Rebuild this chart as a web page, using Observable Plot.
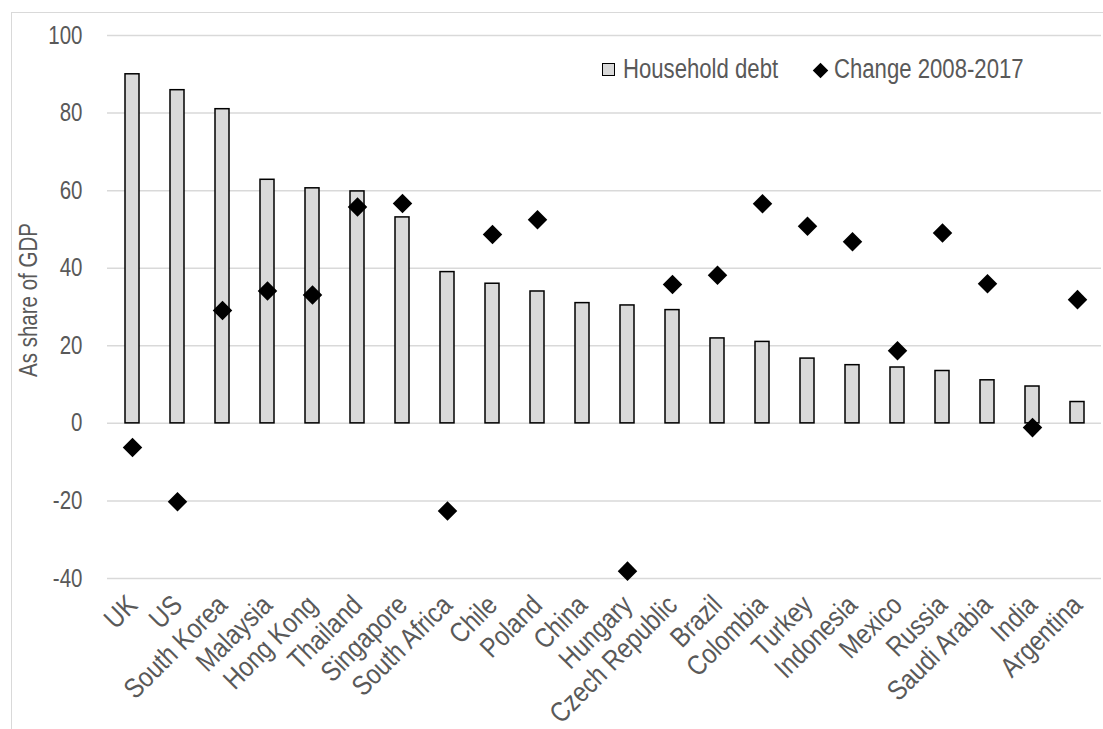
<!DOCTYPE html>
<html>
<head>
<meta charset="utf-8">
<script src="https://cdn.jsdelivr.net/npm/d3@7"></script>
<script src="https://cdn.jsdelivr.net/npm/@observablehq/plot@0.6"></script>
<style>
  html, body { margin: 0; padding: 0; background: #fff; }
  #wrap { position: relative; width: 1103px; height: 729px; overflow: hidden; background: #fff;
          font-family: "Liberation Sans", Arial, sans-serif; color: #595959; }
  #frame { position: absolute; left: 11px; top: 12px; width: 1200px; height: 800px;
           border-left: 1.5px solid #d9d9d9; border-top: 1.5px solid #d9d9d9; }
  #chart { position: absolute; left: 0; top: 0; }
  .narrow { display: inline-block; transform: scaleX(0.82); transform-origin: 0 50%; }
  #ylabel { position: absolute; left: 28px; top: 300px; font-size: 25px; line-height: 25px; white-space: nowrap;
            transform: translate(-50%, -50%) rotate(-90deg) scaleX(0.82); }
  .lg { position: absolute; font-size: 27px; line-height: 27px; white-space: nowrap; }
  #lgsq { position: absolute; left: 602px; top: 63px; width: 11px; height: 11px; background: #d9d9d9; border: 1.5px solid #000; }
  #lgdm { position: absolute; left: 815px; top: 64.5px; width: 11px; height: 11px; background: #000; transform: rotate(45deg); }
</style>
</head>
<body>
<div id="wrap">
  <div id="frame"></div>
  <div id="chart"></div>
  <div id="ylabel">As share of GDP</div>
  <div id="lgsq"></div>
  <div class="lg" style="left:623px; top:56px;"><span class="narrow">Household debt</span></div>
  <div id="lgdm"></div>
  <div class="lg" style="left:834px; top:56px;"><span class="narrow">Change 2008-2017</span></div>
</div>
<script>
const countries = ["UK","US","South Korea","Malaysia","Hong Kong","Thailand","Singapore","South Africa","Chile","Poland","China","Hungary","Czech Republic","Brazil","Colombia","Turkey","Indonesia","Mexico","Russia","Saudi Arabia","India","Argentina"];
const householdDebt = [90.0, 85.9, 81.0, 62.8, 60.6, 59.8, 53.1, 39.0, 36.0, 34.0, 31.0, 30.4, 29.2, 21.9, 21.0, 16.7, 15.0, 14.4, 13.5, 11.1, 9.5, 5.5];
const change0817 = [-6.2, -20.2, 29.1, 34.1, 33.1, 55.8, 56.7, -22.6, 48.7, 52.5, null, -38.1, 35.8, 38.2, 56.6, 50.8, 46.8, 18.7, 49.1, 36.0, -1.1, 31.9];
const yTicks = [-40, -20, 0, 20, 40, 60, 80, 100];

const rows = countries.map((c, i) => ({country: c, debt: householdDebt[i], change: change0817[i]}));

const chart = Plot.plot({
  width: 1103,
  height: 729,
  marginLeft: 107,
  marginRight: 2,
  marginTop: 35,
  marginBottom: 151,
  style: {
    fontFamily: '"Liberation Sans", Arial, sans-serif',
    fontSize: "25px",
    color: "#595959",
    background: "transparent",
    overflow: "visible"
  },
  x: {domain: countries, paddingInner: 0.69, paddingOuter: 0.345, align: 0.5},
  y: {domain: [-40, 100]},
  marks: [
    Plot.gridY(yTicks, {stroke: "#d9d9d9", strokeOpacity: 1, strokeWidth: 1.5}),
    Plot.axisY(yTicks, {tickSize: 0, tickPadding: 25, label: null, fontSize: 25, tickFormat: d => String(d), className: "yax"}),
    Plot.axisX({tickSize: 0, tickRotate: -45, tickPadding: 22, label: null, fontSize: 28, className: "xax"}),
    Plot.barY(rows, {x: "country", y: "debt", fill: "#d9d9d9", stroke: "#000", strokeWidth: 1.5}),
    Plot.dot(rows.filter(d => d.change != null), {x: "country", y: "change", symbol: "diamond2", r: 8.8, fill: "#000", stroke: "none"})
  ]
});

// condense axis text horizontally (narrow typeface look)
function condense(sel, k) {
  chart.querySelectorAll(sel).forEach(t => {
    let tr = t.getAttribute("transform");
    if (!tr) {
      const x = +(t.getAttribute("x") || 0), y = +(t.getAttribute("y") || 0);
      t.removeAttribute("x"); t.removeAttribute("y");
      tr = `translate(${x},${y})`;
    }
    t.setAttribute("transform", tr + ` scale(${k},1)`);
  });
}
condense(".yax text", 0.82);
condense(".xax text", 0.85);
document.getElementById("chart").appendChild(chart);
</script>
</body>
</html>
